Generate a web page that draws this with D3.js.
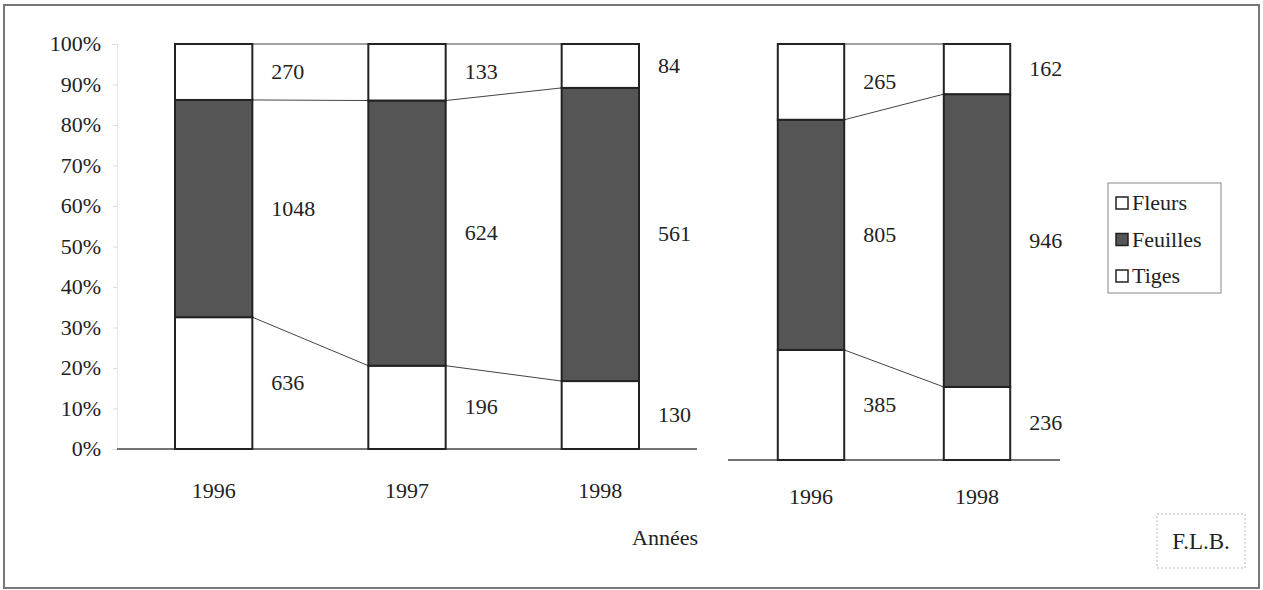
<!DOCTYPE html>
<html><head><meta charset="utf-8">
<script src="https://cdn.jsdelivr.net/npm/d3@7"></script>
<style>
body{margin:0;background:#fff}
#wrap{position:relative;width:1263px;height:590px}
svg{display:block;position:absolute;left:0;top:0}
#wrap .lbl, #wrap div.lbl{position:absolute;font-family:'Liberation Serif','Times New Roman',Times,serif !important;line-height:1;color:#222;white-space:nowrap}
</style>
</head><body><div id="wrap"><svg id="c" width="1263" height="590"></svg></div>
<script>
const series = ["Tiges","Feuilles","Fleurs"];
const yearsA = ["1996","1997","1998"];
const tigesA = [636,196,130];
const feuillesA = [1048,624,561];
const fleursA = [270,133,84];
const yearsB = ["1996","1998"];
const tigesB = [385,236];
const feuillesB = [805,946];
const fleursB = [265,162];
const yTicks = [0,0.1,0.2,0.3,0.4,0.5,0.6,0.7,0.8,0.9,1];
const legendItems = ["Fleurs","Feuilles","Tiges"];
const xTitle = "Années";
const credit = "F.L.B.";

const colors = {Tiges:"#ffffff",Feuilles:"#555555",Fleurs:"#ffffff"};
const svg = d3.select("#c");
const wrap = d3.select("#wrap");
function label(x, y, s, anchor, size){
  const tx = anchor==="end" ? "-100%" : anchor==="middle" ? "-50%" : "0";
  const el = wrap.append("div").attr("class","lbl")
    .style("left", x+"px").style("top", y+"px")
    .style("transform", `translate(${tx},-50%)`)
    .style("font-size", (size||22)+"px")
    .text(s);
  el.node().style.setProperty("font-family", "'Liberation Serif', Tinos, 'Times New Roman', Times, serif", "important");
  return el;
}

svg.append("rect").attr("x",4).attr("y",5).attr("width",1255).attr("height",583)
  .attr("fill","none").attr("stroke","#777").attr("stroke-width",2);

function panel(years, t, f, fl, x0, x1, yBase, yTop, showY, labelY){
  const rows = years.map((y,i)=>{
    const s = t[i]+f[i]+fl[i];
    return {year:y,Tiges:t[i]/s,Feuilles:f[i]/s,Fleurs:fl[i]/s,raw:{Tiges:t[i],Feuilles:f[i],Fleurs:fl[i]}};
  });
  const x = d3.scaleBand().domain(years).range([x0,x1]).paddingInner(0.6).paddingOuter(0.3);
  const y = d3.scaleLinear().domain([0,1]).range([yBase,yTop]);
  const stack = d3.stack().keys(series)(rows);
  const g = svg.append("g");
  if(showY){
    const fmt = d3.format(".0%");
    const ax = g.append("g").attr("transform",`translate(${x0},0)`)
      .call(d3.axisLeft(y).tickValues(yTicks).tickFormat("").tickSize(5));
    ax.select(".domain").attr("stroke","#e6e6e6");
    ax.selectAll(".tick line").attr("stroke","#ddd").attr("transform","translate(1,0)");
    yTicks.forEach(v=>label(x0-16, y(v), fmt(v), "end"));
  }
  g.append("line").attr("x1",x0).attr("x2",x1).attr("y1",yBase).attr("y2",yBase).attr("stroke","#444").attr("stroke-width",1.5);
  stack.forEach(layer=>{
    for(let i=0;i<layer.length-1;i++){
      g.append("line").attr("x1",x(years[i])+x.bandwidth()).attr("y1",y(layer[i][1]))
        .attr("x2",x(years[i+1])).attr("y2",y(layer[i+1][1])).attr("stroke","#444").attr("stroke-width",1);
    }
  });
  stack.forEach(layer=>{
    g.append("g").selectAll("rect").data(layer).join("rect")
      .attr("x",d=>x(d.data.year)).attr("width",x.bandwidth())
      .attr("y",d=>y(d[1])).attr("height",d=>y(d[0])-y(d[1]))
      .attr("fill",colors[layer.key]).attr("stroke","#222").attr("stroke-width",2);
  });
  stack.forEach(layer=>{
    layer.forEach(d=>label(x(d.data.year)+x.bandwidth()+19, y((d[0]+d[1])/2), d.data.raw[layer.key], "start"));
  });
  years.forEach(yr=>label(x(yr)+x.bandwidth()/2, labelY, yr, "middle"));
}
panel(yearsA,tigesA,feuillesA,fleursA,117,697,449,44,true,491);
panel(yearsB,tigesB,feuillesB,fleursB,728,1060,460,44,false,497);

label(665, 538, xTitle, "middle");

svg.append("rect").attr("x",1108).attr("y",183).attr("width",113).attr("height",110).attr("fill","#fff").attr("stroke","#888").attr("stroke-width",1);
legendItems.forEach((k,i)=>{
  const cy = 203 + i*36.5;
  svg.append("rect").attr("x",1116).attr("y",cy-6).attr("width",12).attr("height",12)
    .attr("fill",colors[k]).attr("stroke","#222").attr("stroke-width",1.5);
  label(1132, cy, k, "start");
});

svg.append("rect").attr("x",1157).attr("y",514).attr("width",88).attr("height",54).attr("fill","#fff")
  .attr("stroke","#bbb").attr("stroke-dasharray","2,2");
label(1201, 541, credit, "middle", 23);
</script></body></html>
